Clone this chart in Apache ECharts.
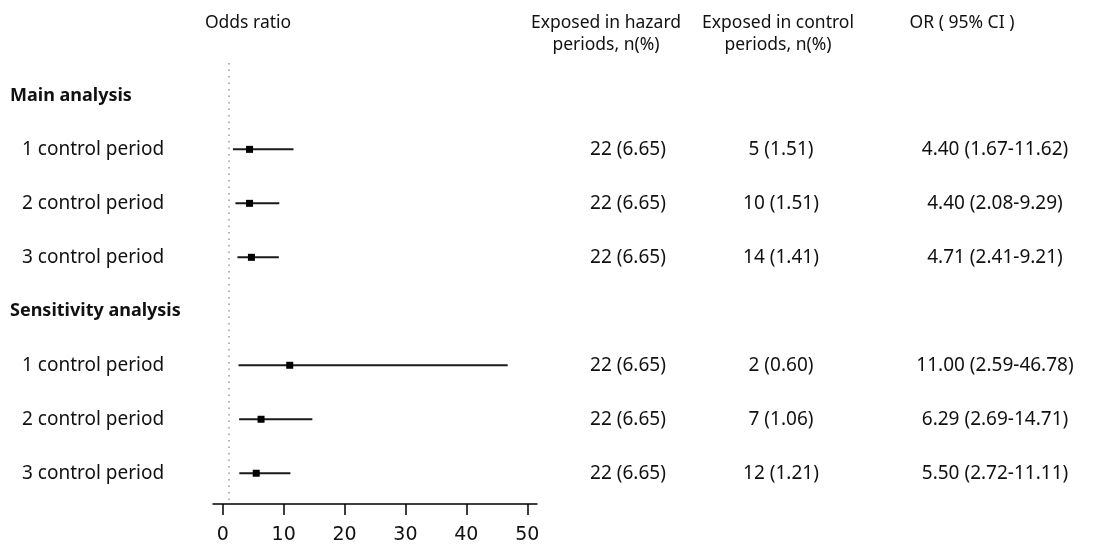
<!DOCTYPE html>
<html><head><meta charset="utf-8">
<script src="https://cdn.jsdelivr.net/npm/echarts@6/dist/echarts.min.js"></script>
<style>html,body{margin:0;padding:0;background:#fff}#c{width:1096px;height:545px}</style>
</head><body><div id="c"></div>
<script>
const groups = ['Main analysis', 'Sensitivity analysis'];
const subLabels = ['1 control period', '2 control period', '3 control period'];
const hazardN = [22, 22, 22, 22, 22, 22];
const hazardPct = [6.65, 6.65, 6.65, 6.65, 6.65, 6.65];
const controlN = [5, 10, 14, 2, 7, 12];
const controlPct = [1.51, 1.51, 1.41, 0.60, 1.06, 1.21];
const orVal = [4.40, 4.40, 4.71, 11.00, 6.29, 5.50];
const ciLow = [1.67, 2.08, 2.41, 2.59, 2.69, 2.72];
const ciHigh = [11.62, 9.29, 9.21, 46.78, 14.71, 11.11];
const xTicks = [0, 10, 20, 30, 40, 50];
const refValue = 1;
const headers = ['Odds ratio', 'Exposed in hazard\nperiods, n(%)', 'Exposed in control\nperiods, n(%)', 'OR ( 95% CI )'];

const FONT = '"Noto Sans", sans-serif';
const TXT = '#111';
const FS = 19;
const HFS = 17.5;

const forestData = [];
const cells = [];
groups.forEach((g, gi) => {
  cells.push([gi * 4, 0, g, true]);
  subLabels.forEach((s, si) => {
    const k = gi * 3 + si;
    const row = gi * 4 + 1 + si;
    forestData.push([ciLow[k], ciHigh[k], orVal[k], row]);
    cells.push([row, 1, s, false]);
    cells.push([row, 2, hazardN[k] + ' (' + hazardPct[k].toFixed(2) + ')', false]);
    cells.push([row, 3, controlN[k] + ' (' + controlPct[k].toFixed(2) + ')', false]);
    cells.push([row, 4, orVal[k].toFixed(2) + ' (' + ciLow[k].toFixed(2) + '-' + ciHigh[k].toFixed(2) + ')', false]);
  });
});
const colX = [10, 22, 628, 781, 995];
const colAlign = ['left', 'left', 'center', 'center', 'center'];

const chart = echarts.init(document.getElementById('c'), null, {renderer: 'canvas'});
chart.setOption({
  animation: false,
  backgroundColor: '#fff',
  grid: {left: 213, width: 324, top: 63, height: 442},
  xAxis: {
    type: 'value', min: -1.6, max: 51.6,
    splitLine: {show: false},
    axisLine: {show: true, onZero: false, lineStyle: {color: '#000', width: 1.5}},
    axisTick: {show: true, length: 11, customValues: xTicks, lineStyle: {color: '#000', width: 1.5}},
    axisLabel: {customValues: xTicks, margin: 22, color: TXT, fontFamily: '"DejaVu Sans", sans-serif', fontSize: 19}
  },
  yAxis: {type: 'value', inverse: true, min: -0.6, max: 7.57, show: false},
  graphic: [
    {type: 'text', x: 248, y: 23, style: {text: headers[0], font: HFS + 'px ' + FONT, fill: TXT, align: 'center', verticalAlign: 'middle'}},
    {type: 'text', x: 606, y: 34, style: {text: headers[1], font: HFS + 'px ' + FONT, lineHeight: 22, fill: TXT, align: 'center', verticalAlign: 'middle'}},
    {type: 'text', x: 778, y: 34, style: {text: headers[2], font: HFS + 'px ' + FONT, lineHeight: 22, fill: TXT, align: 'center', verticalAlign: 'middle'}},
    {type: 'text', x: 962, y: 23, style: {text: headers[3], font: HFS + 'px ' + FONT, fill: TXT, align: 'center', verticalAlign: 'middle'}}
  ],
  series: [
    {
      type: 'custom',
      data: forestData,
      encode: {x: [0, 1, 2], y: 3},
      renderItem: function (params, api) {
        const y = api.coord([0, api.value(3)])[1];
        const xl = api.coord([api.value(0), 0])[0];
        const xh = api.coord([api.value(1), 0])[0];
        const xo = api.coord([api.value(2), 0])[0];
        return {type: 'group', children: [
          {type: 'line', shape: {x1: xl, y1: y, x2: xh, y2: y}, style: {stroke: '#1a1a1a', lineWidth: 2}},
          {type: 'rect', shape: {x: xo - 3.5, y: y - 3.5, width: 7, height: 7}, style: {fill: '#000'}}
        ]};
      },
      markLine: {
        silent: true, symbol: 'none', label: {show: false},
        lineStyle: {type: [1.5, 5], color: '#9a9a9a', width: 1.5},
        data: [{xAxis: refValue}]
      },
      z: 3
    },
    {
      type: 'custom',
      data: cells.map((c, i) => [c[0], i]),
      encode: {y: 0},
      renderItem: function (params, api) {
        const c = cells[params.dataIndex];
        const y = api.coord([0, c[0]])[1];
        return {type: 'text', x: colX[c[1]], y: y, style: {
          text: c[2], fill: TXT,
          font: (c[3] ? 'bold 18px ' : FS + 'px ') + FONT,
          align: colAlign[c[1]], verticalAlign: 'middle'
        }};
      }
    }
  ]
});
</script></body></html>
